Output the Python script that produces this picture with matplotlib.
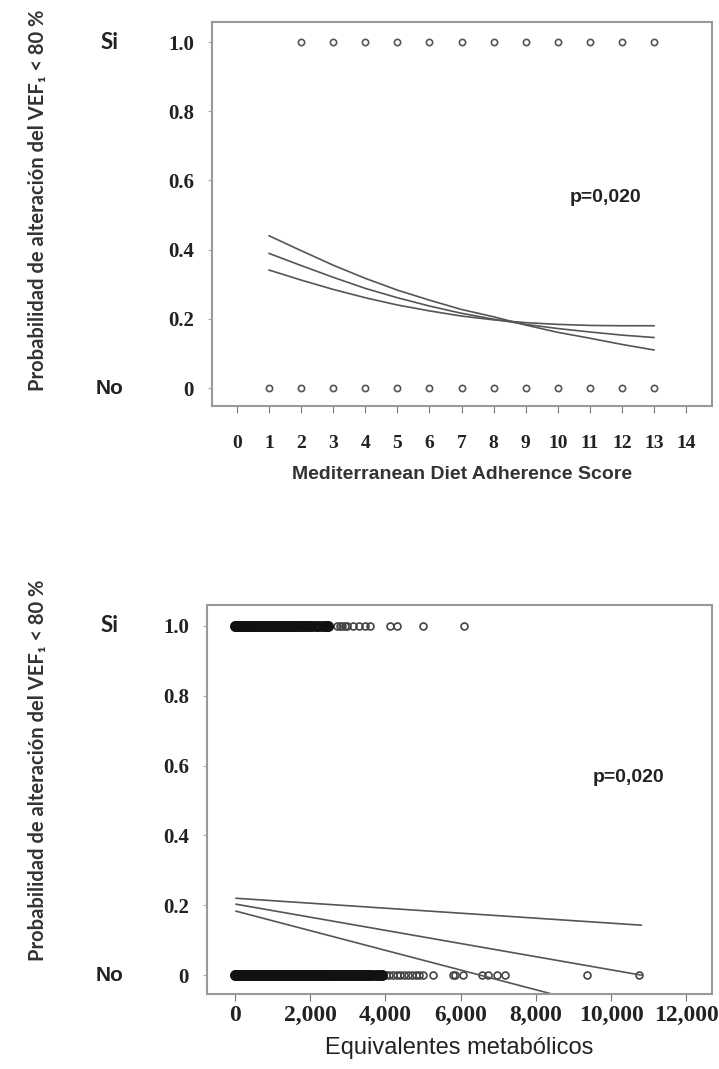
import numpy as np
import matplotlib
matplotlib.use("Agg")
import matplotlib.pyplot as plt
import matplotlib.transforms as mtransforms
from matplotlib.ticker import FuncFormatter

# --- top panel: Mediterranean diet score ---
score_si = [2, 3, 4, 5, 6, 7, 8, 9, 10, 11, 12, 13]
score_no = [1, 2, 3, 4, 5, 6, 7, 8, 9, 10, 11, 12, 13]
score_x = [1, 2, 3, 4, 5, 6, 7, 8, 9, 10, 11, 12, 13]
score_ci_a = [0.440, 0.397, 0.355, 0.317, 0.283, 0.254, 0.227, 0.206, 0.182, 0.161, 0.144, 0.126, 0.110]
score_fit = [0.389, 0.354, 0.320, 0.288, 0.261, 0.237, 0.216, 0.199, 0.184, 0.172, 0.162, 0.153, 0.146]
score_ci_b = [0.341, 0.312, 0.285, 0.261, 0.240, 0.223, 0.208, 0.197, 0.189, 0.184, 0.181, 0.180, 0.180]

# --- bottom panel: metabolic equivalents ---
met_si = [0, 20, 40, 60, 90, 120, 150, 180, 210, 240, 280, 320, 360, 400, 440, 480, 520,
          560, 600, 650, 700, 750, 800, 850, 900, 960, 1020, 1080, 1140, 1200, 1260, 1320,
          1380, 1440, 1500, 1560, 1620, 1680, 1750, 1830, 1900, 1980, 2060, 2150, 2240,
          2330, 2420, 2480, 2720, 2780, 2850, 2920, 2980, 3140, 3300, 3450, 3600, 4120,
          4300, 5000, 6100]
met_no = [0, 20, 40, 60, 80, 110, 140, 170, 200, 240, 280, 320, 360, 400, 440, 480, 520,
          560, 600, 650, 700, 750, 800, 850, 900, 950, 1000, 1060, 1120, 1180, 1240, 1300,
          1360, 1420, 1480, 1540, 1600, 1660, 1720, 1780, 1840, 1900, 1960, 2020, 2080,
          2140, 2200, 2260, 2320, 2380, 2440, 2500, 2570, 2640, 2710, 2780, 2850, 2920,
          2990, 3060, 3130, 3200, 3270, 3340, 3410, 3480, 3560, 3650, 3740, 3830, 3920,
          4010, 4100, 4200, 4300, 4400, 4500, 4600, 4700, 4800, 4900, 5000, 5270, 5800,
          5850, 6060, 6570, 6730, 6970, 7180, 9360, 10740]
met_x = [30, 10800]
met_line_a = [0.220, 0.143]
met_line_b = [0.203, 0.000]
met_line_c = [0.183, -0.121]

y_ticks = [0, 0.2, 0.4, 0.6, 0.8, 1.0]
y_ticklabels = ['0', '0.2', '0.4', '0.6', '0.8', '1.0']
ylabel = 'Probabilidad de alteración del VEF₁ < 80 %'

fig = plt.figure(figsize=(7.19, 10.69), dpi=100)
ax1 = fig.add_axes([0.2949, 0.6202, 0.6954, 0.3592])
ax2 = fig.add_axes([0.2879, 0.0702, 0.7024, 0.3639])

pt_color = '#555555'
line_color = '#555555'
tick_font = dict(family='Liberation Serif', weight='bold', color='#222222')


def style_axes(ax, xfontsize, xpad):
    for s in ax.spines.values():
        s.set_color('#999999')
        s.set_linewidth(1.5)
    ax.set_yticks(y_ticks)
    ax.set_yticklabels(y_ticklabels, fontsize=15, **tick_font)
    ax.tick_params(axis='y', length=3, color='#aaaaaa', pad=10)
    ax.tick_params(axis='x', length=5, color='#777777', pad=xpad, direction='out')
    for lab in ax.get_xticklabels():
        lab.set_fontfamily('Liberation Serif')
        lab.set_fontweight('bold')
        lab.set_fontsize(xfontsize)
        lab.set_color('#222222')
    trans = mtransforms.blended_transform_factory(fig.transFigure, ax.transData)
    ax.text(110 / 719, 1.0, 'Si', transform=trans, ha='center', va='center',
            fontsize=16, fontweight='bold', family=['Lato', 'Liberation Sans'], color='#222222')
    ax.text(110 / 719, 0.0, 'No', transform=trans, ha='center', va='center',
            fontsize=15, fontweight='bold', family=['Liberation Sans Narrow', 'Liberation Sans'],
            color='#222222')


# top panel
ax1.plot(score_si, [1] * len(score_si), 'o', mfc='none', mec=pt_color, ms=4.5, mew=1.2)
ax1.plot(score_no, [0] * len(score_no), 'o', mfc='none', mec=pt_color, ms=4.5, mew=1.2)
for curve in (score_ci_a, score_fit, score_ci_b):
    ax1.plot(score_x, curve, color=line_color, lw=1.2)
ax1.set_xlim(-0.78, 14.81)
ax1.set_ylim(-0.052, 1.058)
ax1.set_xticks(range(0, 15))
ax1.text(11.5, 0.55, 'p=0,020', ha='center', va='center', fontsize=14,
         fontweight='bold', family='Liberation Sans', color='#222222')
style_axes(ax1, 14, 16)
ax1.set_xlabel('Mediterranean Diet Adherence Score', fontsize=14, fontweight='bold',
               family='Liberation Sans', color='#333333', labelpad=10)

# bottom panel: thin rings for all points, heavy ones where the cloud is dense
si = np.array(met_si)
no = np.array(met_no)
ax2.plot(si, np.ones_like(si), 'o', mfc='none', mec='#444444', ms=5, mew=1.2)
ax2.plot(no, np.zeros_like(no), 'o', mfc='none', mec='#444444', ms=5, mew=1.2)
ax2.plot(si[si < 2500], np.ones((si < 2500).sum()), 'o', mfc='none', mec='#111111', ms=5.5, mew=2.4)
ax2.plot(no[no < 4000], np.zeros((no < 4000).sum()), 'o', mfc='none', mec='#111111', ms=5.5, mew=2.4)
for line in (met_line_a, met_line_b, met_line_c):
    ax2.plot(met_x, line, color=line_color, lw=1.2)
ax2.set_xlim(-745, 12686)
ax2.set_ylim(-0.054, 1.06)
ax2.set_xticks([0, 2000, 4000, 6000, 8000, 10000, 12000])
ax2.xaxis.set_major_formatter(FuncFormatter(lambda v, p: f'{int(v):,}'))
ax2.text(10452, 0.567, 'p=0,020', ha='center', va='center', fontsize=14,
         fontweight='bold', family='Liberation Sans', color='#222222')
style_axes(ax2, 17, 3)
ax2.set_xlabel('Equivalentes metabólicos', fontsize=17,
               family=['Liberation Sans Narrow', 'Liberation Sans'],
               color='#222222', labelpad=8)

for yc in (200, 770):
    fig.text(38 / 719, 1 - yc / 1069, ylabel, rotation=90, ha='center', va='center',
             fontsize=14.5, fontweight='bold', family=['Lato', 'DejaVu Sans'], color='#333333')

fig.savefig('out.png', dpi=100)
